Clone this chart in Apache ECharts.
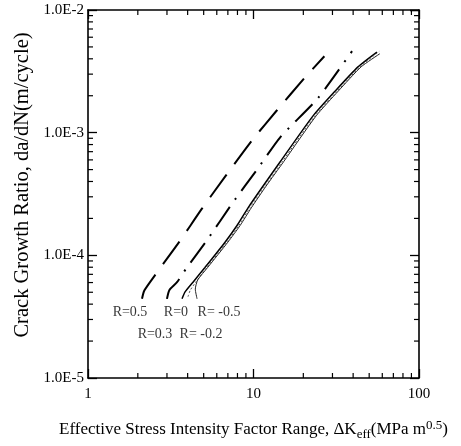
<!DOCTYPE html>
<html><head><meta charset="utf-8">
<script src="https://cdn.jsdelivr.net/npm/echarts@6/dist/echarts.min.js"></script>
<style>html,body{margin:0;padding:0;background:#fff}#c{width:461px;height:446px}</style>
</head><body><div id="c"></div>
<script>
// tick labels
const xTickLabels = ['1', '10', '100'];
const yTickLabels = ['1.0E-5', '1.0E-4', '1.0E-3', '1.0E-2'];
const xMinorTicks = [2, 3, 4, 5, 6, 7, 8, 9, 20, 30, 40, 50, 60, 70, 80, 90];
const yMinorTicks = [2e-5, 3e-5, 4e-5, 5e-5, 6e-5, 7e-5, 8e-5, 9e-5,
                     2e-4, 3e-4, 4e-4, 5e-4, 6e-4, 7e-4, 8e-4, 9e-4,
                     2e-3, 3e-3, 4e-3, 5e-3, 6e-3, 7e-3, 8e-3, 9e-3];

// series (dK_eff, da/dN)
const r05_x = [2.12, 2.18, 2.37, 2.69, 3.55, 4.88, 6.82, 9.93, 13.9, 20.2, 26.8];
const r05_y = [4.42e-5, 5.1e-5, 6.04e-5, 7.67e-5, 1.28e-4, 2.40e-4, 4.48e-4, 8.85e-4, 1.53e-3, 2.76e-3, 4.2e-3];

const r03_x = [3.0, 3.1, 3.45, 3.96, 5.24, 7.41, 10.6, 14.5, 24.5, 39.4];
const r03_y = [4.42e-5, 5.2e-5, 6.04e-5, 7.96e-5, 1.33e-4, 2.63e-4, 5.09e-4, 9.17e-4, 1.91e-3, 4.62e-3];

const r0_x = [3.70, 3.86, 4.31, 5.09, 6.73, 7.95, 9.27, 11.4, 14.5, 22.9, 31.1, 42.8, 55.7];
const r0_y = [4.42e-5, 5.03e-5, 6.04e-5, 7.96e-5, 1.28e-4, 1.75e-4, 2.44e-4, 3.66e-4, 5.79e-4, 1.37e-3, 2.18e-3, 3.44e-3, 4.54e-3];

const rm02_x = [4.02, 4.15, 4.5, 5.2, 6.9, 8.15, 9.5, 11.7, 14.9, 23.5, 32.0, 44.0, 57.5];
const rm02_y = [4.6e-5, 5.2e-5, 6.1e-5, 7.9e-5, 1.28e-4, 1.75e-4, 2.44e-4, 3.66e-4, 5.79e-4, 1.37e-3, 2.18e-3, 3.44e-3, 4.6e-3];

const rm05_x = [4.56, 4.45, 4.6, 5.3, 7.0, 8.3, 9.7, 11.9, 15.2, 23.9, 32.5, 44.7, 58.0];
const rm05_y = [4.42e-5, 5.3e-5, 6.3e-5, 8.0e-5, 1.28e-4, 1.75e-4, 2.44e-4, 3.66e-4, 5.79e-4, 1.37e-3, 2.18e-3, 3.44e-3, 4.4e-3];

// curve labels
const labelText = ['R=0.5', 'R=0', 'R= -0.5', 'R=0.3', 'R= -0.2'];
const labelX = [1.794, 3.40, 6.19, 2.54, 4.82];
const labelY = [3.42e-5, 3.42e-5, 3.42e-5, 2.28e-5, 2.28e-5];

const X_MIN = 1, X_MAX = 100, Y_MIN = 1e-5, Y_MAX = 1e-2;
const FONT = '"Liberation Serif", "Times New Roman", serif';

function zip(xs, ys) { return xs.map((x, i) => [x, ys[i]]); }

const tickData = xMinorTicks.map(v => [v, Y_MIN, 0]).concat(yMinorTicks.map(v => [X_MIN, v, 1]));

function tickRender(params, api) {
  const v0 = api.value(0), v1 = api.value(1), kind = api.value(2);
  const L = 5;
  const style = { stroke: '#000', lineWidth: 1.2 };
  if (kind === 0) {
    const a = api.coord([v0, Y_MIN]), b = api.coord([v0, Y_MAX]);
    return { type: 'group', children: [
      { type: 'line', shape: { x1: a[0], y1: a[1], x2: a[0], y2: a[1] - L }, style },
      { type: 'line', shape: { x1: b[0], y1: b[1], x2: b[0], y2: b[1] + L }, style }
    ]};
  } else {
    const a = api.coord([X_MIN, v1]), b = api.coord([X_MAX, v1]);
    return { type: 'group', children: [
      { type: 'line', shape: { x1: a[0], y1: a[1], x2: a[0] + L, y2: a[1] }, style },
      { type: 'line', shape: { x1: b[0], y1: b[1], x2: b[0] - L, y2: b[1] }, style }
    ]};
  }
}

const axisLineStyle = { color: '#000', width: 1.6 };
const majorTick = { inside: true, length: 9, lineStyle: { color: '#000', width: 1.3 } };

const chart = echarts.init(document.getElementById('c'), null, { renderer: 'canvas' });
chart.setOption({
  backgroundColor: '#fff',
  animation: false,
  grid: { left: 88, right: 42, top: 10, bottom: 60, containLabel: false },
  xAxis: [
    {
      type: 'log', logBase: 10, min: X_MIN, max: X_MAX, position: 'bottom',
      axisLine: { lineStyle: axisLineStyle }, axisTick: majorTick, splitLine: { show: false },
      minorTick: { show: false },
      axisLabel: {
        fontFamily: FONT, fontSize: 15, color: '#000', margin: 9,
        formatter: v => xTickLabels[Math.round(Math.log10(v))]
      },
      name: 'Effective Stress Intensity Factor Range, ΔK{sub|eff}(MPa m{sup|0.5})',
      nameLocation: 'middle', nameGap: 41,
      nameTextStyle: {
        fontFamily: FONT, fontSize: 17, color: '#000', lineHeight: 22,
        rich: {
          sub: { fontFamily: FONT, fontSize: 13, color: '#000', verticalAlign: 'bottom', lineHeight: 16 },
          sup: { fontFamily: FONT, fontSize: 13, color: '#000', verticalAlign: 'top', lineHeight: 12 }
        }
      }
    },
    {
      type: 'log', logBase: 10, min: X_MIN, max: X_MAX, position: 'top',
      axisLine: { lineStyle: axisLineStyle }, axisTick: majorTick, splitLine: { show: false },
      axisLabel: { show: false }
    }
  ],
  yAxis: [
    {
      type: 'log', logBase: 10, min: Y_MIN, max: Y_MAX, position: 'left',
      axisLine: { lineStyle: axisLineStyle }, axisTick: majorTick, splitLine: { show: false },
      axisLabel: {
        fontFamily: FONT, fontSize: 15, color: '#000', margin: 4,
        formatter: v => yTickLabels[Math.round(Math.log10(v)) + 5]
      },
      name: 'Crack Growth Ratio, da/dN(m/cycle)',
      nameLocation: 'middle', nameGap: 47, nameRotate: 90,
      nameTextStyle: { fontFamily: FONT, fontSize: 20.5, color: '#000', padding: [0, 0, 0, 18] }
    },
    {
      type: 'log', logBase: 10, min: Y_MIN, max: Y_MAX, position: 'right',
      axisLine: { lineStyle: axisLineStyle }, axisTick: majorTick, splitLine: { show: false },
      axisLabel: { show: false }
    }
  ],
  series: [
    { type: 'line', name: 'R=0.5', data: zip(r05_x, r05_y), showSymbol: false, smooth: 0.2,
      lineStyle: { color: '#000', width: 2, type: [28, 13] } },
    { type: 'line', name: 'R=0.3', data: zip(r03_x, r03_y), showSymbol: false, smooth: 0.2,
      lineStyle: { color: '#000', width: 2, type: [24, 9, 2, 9] } },
    { type: 'line', name: 'R=0', data: zip(r0_x, r0_y), showSymbol: false, smooth: 0.2,
      lineStyle: { color: '#000', width: 1.5 } },
    { type: 'line', name: 'R=-0.2', data: zip(rm02_x, rm02_y), showSymbol: false, smooth: 0.2,
      lineStyle: { color: '#555', width: 1, type: [2, 2] } },
    { type: 'line', name: 'R=-0.5', data: zip(rm05_x, rm05_y), showSymbol: false, smooth: 0.2,
      lineStyle: { color: '#222', width: 1 } },
    { type: 'scatter', name: 'labels', data: labelX.map((x, i) => [x, labelY[i], labelText[i]]),
      symbolSize: 1, itemStyle: { color: 'rgba(0,0,0,0)' }, silent: true,
      label: { show: true, position: 'inside', formatter: p => p.data[2],
               fontFamily: FONT, fontSize: 14, color: '#000' } },
    { type: 'custom', name: 'minorTicks', data: tickData, renderItem: tickRender,
      dimensions: ['x', 'y', 'k'], encode: { x: 0, y: 1 }, silent: true, clip: false }
  ]
});
</script>
</body></html>
